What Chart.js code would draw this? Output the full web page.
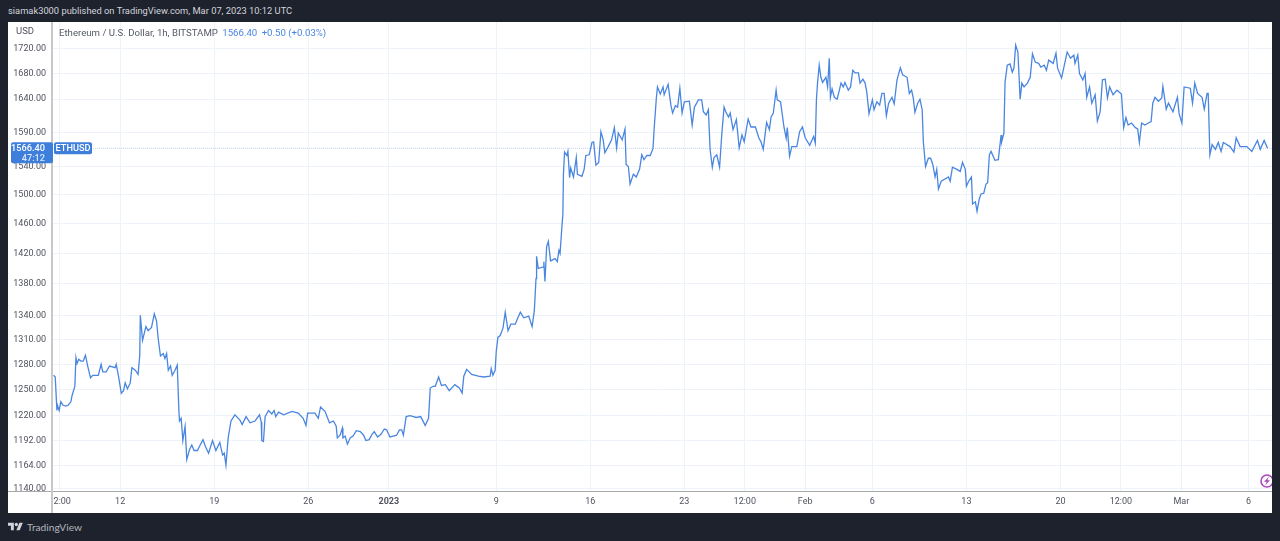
<!DOCTYPE html>
<html>
<head>
<meta charset="utf-8">
<title>ETHUSD</title>
<script src="https://cdn.jsdelivr.net/npm/chart.js@4"></script>
<style>
  html, body { margin: 0; width: 1280px; height: 541px; overflow: hidden; background: #1e222d; font-family: Roboto, sans-serif; }
  #publisher { position: absolute; left: 8px; top: 4px; font-size: 9.33px; line-height: 14px; color: #d1d4dc; white-space: nowrap; }
  #panel { position: absolute; left: 8px; top: 22px; width: 1264px; height: 491px; background: #fff; }
  #legend { position: absolute; left: 59px; top: 26px; font-size: 9.65px; line-height: 14px; color: #555a66; white-space: nowrap; }
  #legend b { font-weight: normal; color: #4a86e0; margin-left: 2px; }
  #unit { position: absolute; left: 16px; top: 24px; font-size: 9.5px; line-height: 14px; color: #50535e; }
  #brand { position: absolute; left: 8px; top: 520px; display: flex; align-items: center; gap: 4px; font-family: Lato, sans-serif; font-size: 10.2px; line-height: 14px; color: #b2b5be; }
</style>
</head>
<body>
<div id="publisher">siamak3000 published on TradingView.com, Mar 07, 2023 10:12 UTC</div>
<div id="panel"><canvas id="chart" width="1264" height="491"></canvas></div>
<div id="legend">Ethereum / U.S. Dollar, 1h, BITSTAMP <b>1566.40</b> <b>+0.50 (+0.03%)</b></div>
<div id="unit">USD</div>
<div id="brand">
  <svg width="15" height="12" viewBox="0 0 36 28"><path fill="#d1d4dc" d="M14 22H7V11H0V4h14v18zM28 22h-8l7.5-18h8L28 22z"/><circle fill="#d1d4dc" cx="20" cy="8" r="4"/></svg>
  <span>TradingView</span>
</div>

<script>
// hours since Dec 07 2022 00:00 UTC
const hours = [
  1, 4, 7, 8, 11, 14, 18, 23, 27, 32, 34, 39, 41, 43, 46, 50, 54, 58, 62, 67,
  71, 81, 86, 89, 95, 101, 111, 113, 117, 122, 126, 129, 133, 138, 141, 147, 152, 155, 156, 160,
  166, 170, 176, 181, 185, 188, 192, 197, 200, 203, 206, 210, 213, 218, 222, 225, 226, 229, 232, 236,
  239, 244, 248, 252, 258, 263, 268, 272, 278, 285, 291, 298, 303, 306, 309, 313, 318, 325, 334, 338,
  345, 352, 361, 369, 372, 373, 376, 379, 385, 391, 395, 398, 403, 412, 427, 438, 447, 452, 455, 468,
  474, 478, 486, 494, 501, 506, 508, 513, 517, 518, 522, 526, 531, 536, 542, 549, 555, 559, 565, 570,
  574, 580, 586, 592, 596, 602, 608, 614, 619, 623, 626, 631, 638, 644, 649, 657, 665, 671, 674, 679,
  683, 689, 694, 701, 708, 718, 726, 731, 734, 739, 748, 760, 769, 781, 783, 786, 790, 792, 795, 799,
  804, 808, 813, 818, 826, 830, 835, 841, 850, 856, 860, 863, 864, 867, 876, 877, 879, 882, 885, 889,
  897, 901, 904, 906, 909, 911, 912, 914, 918, 920, 923, 925, 930, 935, 937, 945, 949, 952, 958, 963,
  966, 970, 975, 979, 983, 986, 992, 998, 1003, 1007, 1010, 1017, 1022, 1024, 1028, 1031, 1037, 1042, 1048, 1052,
  1056, 1061, 1067, 1072, 1074, 1078, 1080, 1085, 1090, 1092, 1099, 1104, 1107, 1112, 1116, 1120, 1124, 1128, 1137, 1142,
  1146, 1150, 1153, 1159, 1162, 1167, 1171, 1174, 1178, 1181, 1186, 1191, 1195, 1199, 1202, 1207, 1210, 1215, 1221, 1226,
  1231, 1235, 1242, 1247, 1255, 1261, 1265, 1269, 1275, 1280, 1283, 1287, 1292, 1294, 1300, 1306, 1310, 1312, 1316, 1320,
  1329, 1334, 1339, 1344, 1352, 1359, 1362, 1364, 1366, 1369, 1372, 1375, 1381, 1384, 1387, 1389, 1392, 1396, 1401, 1405,
  1408, 1412, 1415, 1421, 1425, 1429, 1433, 1439, 1442, 1447, 1451, 1454, 1458, 1464, 1467, 1472, 1477, 1481, 1485, 1489,
  1493, 1499, 1503, 1508, 1514, 1518, 1526, 1530, 1534, 1537, 1540, 1545, 1549, 1553, 1555, 1559, 1564, 1568, 1572, 1576,
  1579, 1582, 1587, 1600, 1603, 1607, 1615, 1621, 1625, 1630, 1632, 1636, 1641, 1643, 1648, 1651, 1655, 1658, 1663, 1667,
  1670, 1673, 1676, 1683, 1689, 1694, 1695, 1699, 1701, 1705, 1710, 1714, 1717, 1720, 1724, 1728, 1731, 1735, 1741, 1746,
  1750, 1755, 1761, 1765, 1771, 1775, 1779, 1787, 1792, 1795, 1802, 1807, 1812, 1818, 1824, 1826, 1831, 1834, 1840, 1844,
  1847, 1852, 1856, 1862, 1866, 1871, 1875, 1880, 1884, 1888, 1894, 1901, 1909, 1913, 1917, 1921, 1927, 1934, 1938, 1941,
  1945, 1951, 1957, 1962, 1965, 1969, 1975, 1981, 1983, 1989, 1993, 2001, 2009, 2012, 2017, 2021, 2032, 2036, 2040, 2045,
  2053, 2057, 2062, 2064, 2067, 2071, 2077, 2082, 2087, 2091, 2103, 2110, 2114, 2121, 2133, 2142, 2152, 2157, 2164, 2170,
];

const prices = [
  1267, 1265, 1226, 1232, 1226, 1236, 1232, 1231, 1232, 1236, 1243, 1254, 1288, 1281, 1286, 1284, 1284, 1291, 1278, 1264,
  1267, 1267, 1280, 1271, 1271, 1278, 1276, 1280, 1266, 1246, 1249, 1258, 1251, 1258, 1276, 1273, 1268, 1291, 1340, 1309,
  1326, 1321, 1325, 1342, 1333, 1311, 1290, 1293, 1287, 1293, 1273, 1278, 1267, 1273, 1279, 1225, 1214, 1217, 1192, 1208,
  1171, 1182, 1187, 1181, 1181, 1187, 1193, 1186, 1178, 1192, 1181, 1190, 1176, 1178, 1165, 1195, 1214, 1221, 1215, 1210,
  1219, 1212, 1214, 1221, 1213, 1192, 1191, 1219, 1226, 1222, 1226, 1219, 1224, 1221, 1225, 1223, 1217, 1209, 1223, 1223,
  1217, 1230, 1225, 1212, 1214, 1208, 1195, 1198, 1206, 1195, 1197, 1188, 1195, 1197, 1203, 1202, 1198, 1192, 1193, 1199,
  1202, 1196, 1199, 1205, 1204, 1196, 1197, 1198, 1204, 1204, 1198, 1219, 1220, 1219, 1218, 1219, 1209, 1217, 1252, 1254,
  1254, 1265, 1255, 1256, 1249, 1256, 1252, 1246, 1266, 1274, 1268, 1266, 1265, 1266, 1275, 1267, 1273, 1296, 1313, 1315,
  1324, 1344, 1321, 1329, 1329, 1336, 1344, 1337, 1339, 1326, 1346, 1387, 1416, 1400, 1402, 1409, 1383, 1429, 1436, 1410,
  1413, 1409, 1424, 1420, 1453, 1473, 1529, 1561, 1556, 1562, 1524, 1538, 1525, 1553, 1529, 1526, 1536, 1556, 1557, 1575,
  1576, 1542, 1546, 1591, 1579, 1560, 1569, 1579, 1597, 1567, 1589, 1579, 1595, 1543, 1540, 1515, 1529, 1525, 1536, 1557,
  1550, 1556, 1556, 1566, 1594, 1642, 1659, 1648, 1659, 1647, 1663, 1631, 1619, 1630, 1628, 1657, 1619, 1636, 1637, 1601,
  1628, 1634, 1639, 1639, 1621, 1616, 1624, 1565, 1539, 1553, 1557, 1539, 1588, 1628, 1621, 1613, 1619, 1594, 1609, 1567,
  1586, 1576, 1610, 1598, 1598, 1582, 1576, 1565, 1605, 1594, 1613, 1619, 1654, 1639, 1636, 1598, 1581, 1597, 1555, 1569,
  1569, 1591, 1598, 1582, 1571, 1584, 1574, 1639, 1665, 1693, 1674, 1666, 1674, 1659, 1704, 1643, 1656, 1643, 1640, 1654,
  1665, 1659, 1666, 1654, 1659, 1685, 1681, 1681, 1665, 1671, 1665, 1651, 1618, 1639, 1624, 1636, 1631, 1649, 1649, 1615,
  1634, 1643, 1633, 1670, 1689, 1678, 1674, 1649, 1654, 1642, 1620, 1634, 1640, 1624, 1576, 1540, 1552, 1552, 1543, 1525,
  1536, 1508, 1519, 1525, 1519, 1539, 1536, 1533, 1546, 1536, 1512, 1519, 1525, 1487, 1490, 1477, 1494, 1501, 1502, 1515,
  1517, 1557, 1562, 1549, 1550, 1586, 1576, 1589, 1666, 1693, 1695, 1682, 1689, 1725, 1714, 1640, 1665, 1659, 1665, 1674,
  1711, 1698, 1696, 1690, 1693, 1685, 1701, 1696, 1712, 1688, 1673, 1693, 1714, 1704, 1709, 1696, 1709, 1680, 1670, 1680,
  1643, 1659, 1634, 1647, 1607, 1621, 1670, 1671, 1642, 1659, 1647, 1654, 1648, 1597, 1612, 1601, 1604, 1597, 1595, 1575,
  1604, 1601, 1604, 1606, 1634, 1643, 1637, 1642, 1660, 1625, 1634, 1621, 1643, 1618, 1604, 1659, 1657, 1634, 1665, 1649,
  1643, 1625, 1649, 1649, 1557, 1572, 1565, 1575, 1562, 1575, 1569, 1561, 1582, 1569, 1569, 1562, 1578, 1565, 1578, 1566.4,
];

const lastPrice = 1566.4;
const priceTicks = [1720, 1680, 1640, 1590, 1540, 1500, 1460, 1420, 1380, 1340, 1310, 1280, 1250, 1220, 1192, 1164, 1140];
const timeTickHours = [12, 120, 288, 456, 600, 792, 960, 1128, 1236, 1344, 1464, 1632, 1800, 1908, 2016, 2136];
const timeTickLabels = ["12:00", "12", "19", "26", "2023", "9", "16", "23", "12:00", "Feb", "6", "13", "20", "12:00", "Mar", "6"];

const lineColor = "#4a86e0";
const tagColor = "#3f7fdc";
const gridColor = "#edf3f9";
const axisFont = "Roboto, sans-serif";

// axis dividers, clipped first time label, last price tags, snapshot badge
const tradingViewOverlay = {
  id: "tradingViewOverlay",
  afterDraw(chart) {
    const { ctx, chartArea, scales } = chart;
    const { left, bottom } = chartArea;
    const y = scales.y.getPixelForValue(lastPrice);

    ctx.save();
    ctx.fillStyle = "#fff";
    ctx.fillRect(0, bottom, left, chart.height - bottom);
    ctx.fillStyle = "#a9a9a9";
    ctx.fillRect(0, bottom, chart.width, 1);
    ctx.fillStyle = "#c8c8c8";
    ctx.fillRect(left - 2, 0, 2, chart.height);

    ctx.fillStyle = tagColor;
    ctx.beginPath();
    ctx.roundRect(3, y - 6, left - 3, 21, 2);
    ctx.fill();
    ctx.beginPath();
    ctx.roundRect(left + 1, y - 6, 38, 12, 2);
    ctx.fill();

    ctx.textBaseline = "middle";
    ctx.fillStyle = "#fff";
    ctx.textAlign = "right";
    ctx.font = "500 9.2px " + axisFont;
    ctx.fillText(lastPrice.toFixed(2), left - 8, y);
    ctx.fillStyle = "#dbe7fa";
    ctx.fillText("47:12", left - 8, y + 10);
    ctx.fillStyle = "#fff";
    ctx.textAlign = "center";
    ctx.fillText("ETHUSD", left + 20, y + 0.5);

    // lightning badge, cut by the panel edge
    const cx = chart.width - 5;
    const cy = 459;
    ctx.strokeStyle = "#ab47bc";
    ctx.lineWidth = 1.6;
    ctx.beginPath();
    ctx.arc(cx, cy, 6, 0, Math.PI * 2);
    ctx.stroke();
    ctx.fillStyle = "#ab47bc";
    ctx.beginPath();
    ctx.moveTo(cx + 2, cy - 4.5);
    ctx.lineTo(cx - 3, cy + 0.8);
    ctx.lineTo(cx - 0.3, cy + 0.8);
    ctx.lineTo(cx - 2, cy + 4.5);
    ctx.lineTo(cx + 3, cy - 0.8);
    ctx.lineTo(cx + 0.3, cy - 0.8);
    ctx.closePath();
    ctx.fill();
    ctx.restore();
  },
};

new Chart(document.getElementById("chart"), {
  type: "line",
  data: {
    datasets: [
      {
        data: hours.map((hour, i) => ({ x: hour, y: prices[i] })),
        borderColor: lineColor,
        borderWidth: 1.3,
        pointRadius: 0,
        tension: 0,
        order: 1,
      },
      {
        data: [
          { x: 0, y: lastPrice },
          { x: 2178, y: lastPrice },
        ],
        borderColor: "#c3d6f3",
        borderWidth: 1,
        borderDash: [1, 1],
        pointRadius: 0,
        order: 2,
      },
    ],
  },
  options: {
    responsive: false,
    animation: false,
    parsing: false,
    normalized: true,
    layout: { padding: 0 },
    plugins: { legend: { display: false }, tooltip: { enabled: false } },
    scales: {
      x: {
        type: "linear",
        min: 0,
        max: 2178,
        afterBuildTicks(scale) {
          scale.ticks = timeTickHours.map((value) => ({ value }));
        },
        afterFit(scale) {
          scale.height = 22;
          scale.paddingLeft = 0;
          scale.paddingRight = 0;
        },
        grid: { color: gridColor, drawTicks: false },
        border: { display: false },
        ticks: {
          autoSkip: false,
          maxRotation: 0,
          padding: 5,
          color: "#50535e",
          font: (ctx) => ({
            family: axisFont,
            size: 9,
            weight: ctx.tick && ctx.tick.label === "2023" ? "bold" : "normal",
          }),
          callback: (value, index) => timeTickLabels[index],
        },
      },
      y: {
        type: "logarithmic",
        bounds: "data",
        min: 1137.1,
        max: 1762.8,
        afterBuildTicks(scale) {
          scale.ticks = priceTicks.map((value) => ({ value }));
        },
        // no room kept for the top label, the axis runs up to the panel edge
        afterFit(scale) {
          scale.width = 45;
          scale.paddingTop = 0;
          scale.paddingBottom = 0;
        },
        grid: { color: gridColor, drawTicks: false },
        border: { display: false },
        ticks: {
          autoSkip: false,
          padding: 7,
          color: "#50535e",
          font: { family: axisFont, size: 9 },
          callback: (value) => value.toFixed(2),
        },
      },
    },
  },
  plugins: [tradingViewOverlay],
});
</script>
</body>
</html>
